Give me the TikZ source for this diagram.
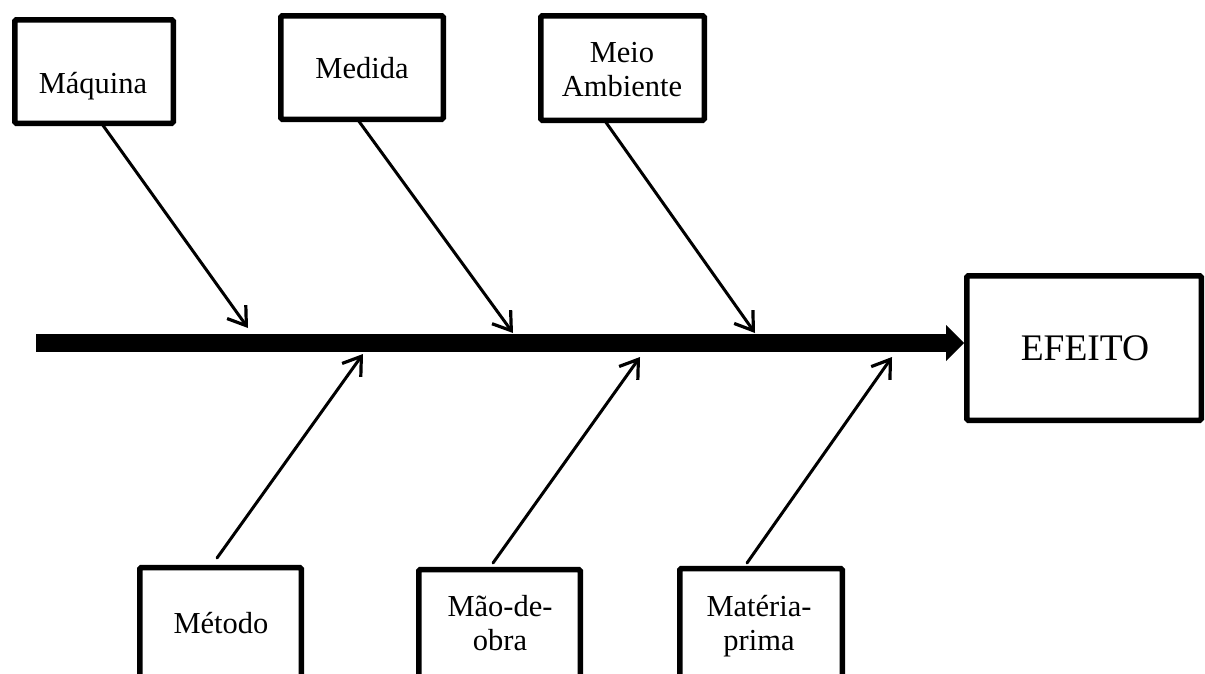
\documentclass[tikz,border=0pt]{standalone}
\usepackage{fontspec}
\setmainfont{Liberation Serif}
\usetikzlibrary{arrows.meta}
\begin{document}
\begin{tikzpicture}[x=1pt,y=-1pt,
  box/.style={draw, line width=5.5pt, rounded corners=1.5pt, inner sep=0pt},
  lbl/.style={inner sep=0pt, align=center, font=\fontsize{30.5}{33.5}\selectfont},
  biglbl/.style={inner sep=0pt, font=\fontsize{37.5}{40}\selectfont},
  cause/.style={line width=3pt, line cap=round,
    -{Straight Barb[length=17pt,width=23pt,line width=3.2pt]}},
  spine/.style={line width=18pt,
    -{Triangle[length=18pt,width=36pt,line width=0pt]}}]
\useasboundingbox (0,0) rectangle (1205,673);
\clip (0,0) rectangle (1205,673);
\fill[white] (0,0) rectangle (1205,673);

% boxes
\node[box, minimum width=158.5pt, minimum height=103.5pt] (maq) at (94,71.5) {};
\node[box, minimum width=162.5pt, minimum height=103.5pt] (med) at (362,67.5) {};
\node[box, minimum width=163.5pt, minimum height=104.5pt] (mei) at (622.5,68) {};
\node[box, minimum width=234.5pt, minimum height=144.5pt] (efe) at (1084,348) {};
\node[box, minimum width=161.5pt, minimum height=150pt] (met) at (220.5,642.5) {};
\node[box, minimum width=161.5pt, minimum height=150pt] (mao) at (499.5,644.5) {};
\node[box, minimum width=162.5pt, minimum height=150pt] (mat) at (761,643.5) {};

% texts
\node[lbl, anchor=base] (tmaq) at (93,93) {Máquina};
\node[lbl, anchor=base] (tmed) at (362,78) {Medida};
\node[lbl, anchor=base] (tmei) at (622,96) {Meio\\Ambiente};
\node[biglbl, anchor=base] (tefe) at (1085,360) {EFEITO};
\node[lbl, anchor=base] (tmet) at (221,633) {Método};
\node[lbl, anchor=base] (tmao) at (500,650) {Mão-de-\\obra};
\node[lbl, anchor=base] (tmat) at (759,650) {Matéria-\\prima};

% spine
\coordinate (sL) at (36,343);
\draw[spine] (sL) -- (sL -| efe.west);

% cause arrow end points
\coordinate (a1) at (102,124);  \coordinate (b1) at (248,328);
\coordinate (a2) at (358,120);  \coordinate (b2) at (513,333);
\coordinate (a3) at (605,121);  \coordinate (b3) at (755,333);
\coordinate (a4) at (217,558);  \coordinate (b4) at (363,354);
\coordinate (a5) at (493,563);  \coordinate (b5) at (640,357);
\coordinate (a6) at (747,563);  \coordinate (b6) at (892,357);

\draw[cause] (a1) -- (b1);
\draw[cause] (a2) -- (b2);
\draw[cause] (a3) -- (b3);
\draw[cause] (a4) -- (b4);
\draw[cause] (a5) -- (b5);
\draw[cause] (a6) -- (b6);
\end{tikzpicture}
\end{document}
